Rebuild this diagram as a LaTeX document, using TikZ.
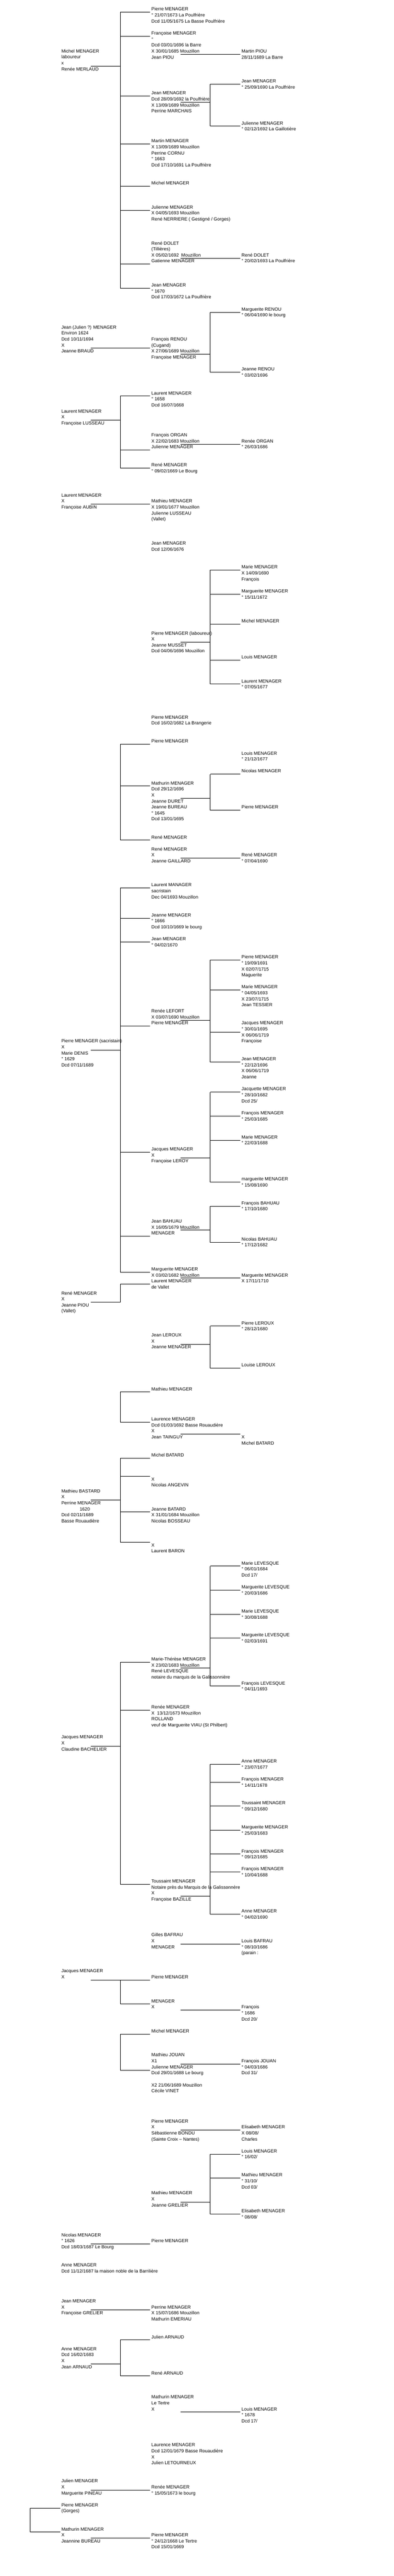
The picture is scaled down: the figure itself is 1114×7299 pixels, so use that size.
\documentclass[tikz,border=0pt]{standalone}
\usepackage{fontspec}
\setmainfont{Liberation Sans}
\newcommand{\fiche}[1]{\begin{tabular}[t]{@{}l@{}}#1\end{tabular}}
\tikzset{
  person/.style={anchor=base west, inner xsep=3pt, inner ysep=0pt,
    font=\fontsize{13}{17}\selectfont}
}
\begin{document}
\begin{tikzpicture}[x=1pt, y=-1pt, line width=1pt]
  \fill[white] (0,0) rectangle (1114,7299);
  \useasboundingbox (0,0) rectangle (1114,7299);

  \node (a0) at (170.3, 149.4) [person] {\fiche{Michel MENAGER\\laboureur\\x\\Renée MERLAUD}};
  \node (a1) at (425.3, 30.4) [person] {\fiche{Pierre MENAGER\\° 21/07/1673 La Poulfrière\\Dcd 11/05/1675 La Basse Poulfrière}};
  \node (a2) at (425.3, 98.5) [person] {\fiche{Françoise MENAGER\\°\\Dcd 03/01/1696 la Barre\\X 30/01/1685 Mouzillon\\Jean PIOU}};
  \node (a2k) at (680.3, 149.5) [person] {\fiche{Martin PIOU\\28/11/1689 La Barre}};
  \node (a3) at (425.3, 268.5) [person] {\fiche{Jean MENAGER\\Dcd 28/09/1692 la Poulfrière\\X 13/09/1689 Mouzillon\\Perrine MARCHAIS}};
  \node (a3k1) at (680.3, 234.3) [person] {\fiche{Jean MENAGER\\° 25/09/1690 La Poulfrière}};
  \node (a3k2) at (680.3, 353.3) [person] {\fiche{Julienne MENAGER\\° 02/12/1692 La Gaillotière}};
  \node (a4) at (425.3, 404.3) [person] {\fiche{Martin MENAGER\\X 13/09/1689 Mouzillon\\Perrine CORNU\\° 1663\\Dcd 17/10/1691 La Poulfrière}};
  \node (a5) at (425.3, 523.4) [person] {\fiche{Michel MENAGER}};
  \node (a6) at (425.3, 591.5) [person] {\fiche{Julienne MENAGER\\X 04/05/1693 Mouzillon\\René NERRIERE ( Gestigné / Gorges)}};
  \node (a7) at (425.3, 693.4) [person] {\fiche{René DOLET\\(Tillières)\\X 05/02/1692\ \ Mouzillon\\Gatienne MENAGER}};
  \node (a7k) at (680.3, 727.4) [person] {\fiche{René DOLET\\° 20/02/1693 La Poulfrière}};
  \node (a8) at (425.3, 812.5) [person] {\fiche{Jean MENAGER\\° 1670\\Dcd 17/03/1672 La Poulfrière}};

  \coordinate (fa) at ([xshift=-85pt,yshift=-3.9pt]a1.base west);
  \draw ([xshift=86pt,yshift=-37.9pt]a0.base west) -| (fa);
  \draw (fa) |- ([yshift=-3.9pt]a1.base west);
  \draw (fa) |- ([yshift=-3.9pt]a2.base west);
  \draw (fa) |- ([yshift=-3.9pt]a3.base west);
  \draw (fa) |- ([yshift=-3.9pt]a4.base west);
  \draw (fa) |- ([yshift=-3.9pt]a5.base west);
  \draw (fa) |- ([yshift=-3.9pt]a6.base west);
  \draw (fa) |- ([yshift=-54.9pt]a7.base west);
  \draw (fa) |- ([yshift=-3.9pt]a8.base west);
  \draw ([xshift=86pt,yshift=-54.9pt]a2.base west) -- ([yshift=-3.9pt]a2k.base west);
  \coordinate (fa3) at ([xshift=-85pt,yshift=-3.9pt]a3k1.base west);
  \draw ([xshift=86pt,yshift=-20.9pt]a3.base west) -| (fa3);
  \draw (fa3) |- ([yshift=-3.9pt]a3k1.base west);
  \draw (fa3) |- ([yshift=-3.9pt]a3k2.base west);
  \draw ([xshift=86pt,yshift=-37.9pt]a7.base west) -- ([yshift=-3.9pt]a7k.base west);

  \node (b0) at (170.3, 931.5) [person] {\fiche{Jean (Julien ?) MENAGER\\Environ 1624\\Dcd 10/11/1694\\X\\Jeanne BRAUD}};
  \node (b1) at (425.3, 965.5) [person] {\fiche{François RENOU\\(Cugand)\\X 27/06/1689 Mouzillon\\Françoise MENAGER}};
  \node (b1k1) at (680.3, 880.6) [person] {\fiche{Marguerite RENOU\\° 06/04/1690 le bourg}};
  \node (b1k2) at (680.3, 1050.6) [person] {\fiche{Jeanne RENOU\\° 03/02/1696}};
  \draw ([xshift=86pt,yshift=-54.9pt]b0.base west) -- ([yshift=-20.9pt]b1.base west);
  \coordinate (fb) at ([xshift=-85pt,yshift=-3.9pt]b1k1.base west);
  \draw ([xshift=86pt,yshift=-37.9pt]b1.base west) -| (fb);
  \draw (fb) |- ([yshift=-3.9pt]b1k1.base west);
  \draw (fb) |- ([yshift=-3.9pt]b1k2.base west);

  \node (c0) at (170.3, 1169.3) [person] {\fiche{Laurent MENAGER\\X\\Françoise LUSSEAU}};
  \node (c1) at (425.3, 1118.3) [person] {\fiche{Laurent MENAGER\\° 1658\\Dcd 16/07/1668}};
  \node (c2) at (425.3, 1237.4) [person] {\fiche{François ORGAN\\X 22/02/1683 Mouzillon\\Julienne MENAGER}};
  \node (c2k) at (680.3, 1254.4) [person] {\fiche{Renée ORGAN\\° 26/03/1686}};
  \node (c3) at (425.3, 1322.2) [person] {\fiche{René MENAGER\\° 09/02/1669 Le Bourg}};
  \coordinate (fc) at ([xshift=-85pt,yshift=-3.9pt]c1.base west);
  \draw ([xshift=86pt,yshift=-20.9pt]c0.base west) -| (fc);
  \draw (fc) |- ([yshift=-3.9pt]c1.base west);
  \draw (fc) |- ([yshift=-37.9pt]c2.base west);
  \draw (fc) |- ([yshift=-3.9pt]c3.base west);
  \draw ([xshift=86pt,yshift=-20.9pt]c2.base west) -- ([yshift=-3.9pt]c2k.base west);

  \node (d0) at (170.3, 1407.4) [person] {\fiche{Laurent MENAGER\\X\\Françoise AUBIN}};
  \node (d1) at (425.3, 1424.4) [person] {\fiche{Mathieu MENAGER\\X 19/01/1677 Mouzillon\\Julienne LUSSEAU\\(Vallet)}};
  \draw ([xshift=86pt,yshift=-20.9pt]d0.base west) -- ([yshift=-3.9pt]d1.base west);
  \node (e1) at (425.3, 1543.6) [person] {\fiche{Jean MENAGER\\Dcd 12/06/1676}};

  \node (f0) at (425.3, 1798.5) [person] {\fiche{Pierre MENAGER (laboureur)\\X\\Jeanne MUSSET\\Dcd 04/06/1696 Mouzillon}};
  \node (f1) at (680.3, 1611.3) [person] {\fiche{Marie MENAGER\\X 14/09/1690\\François}};
  \node (f2) at (680.3, 1679.4) [person] {\fiche{Marguerite MENAGER\\° 15/11/1672}};
  \node (f3) at (680.3, 1764.2) [person] {\fiche{Michel MENAGER}};
  \node (f4) at (680.3, 1866.6) [person] {\fiche{Louis MENAGER}};
  \node (f5) at (680.3, 1934.3) [person] {\fiche{Laurent MENAGER\\° 07/05/1677}};
  \coordinate (ff) at ([xshift=-85pt,yshift=-3.9pt]f1.base west);
  \draw ([xshift=86pt,yshift=-20.9pt]f0.base west) -| (ff);
  \draw (ff) |- ([yshift=-3.9pt]f1.base west);
  \draw (ff) |- ([yshift=-3.9pt]f2.base west);
  \draw (ff) |- ([yshift=-3.9pt]f3.base west);
  \draw (ff) |- ([yshift=-3.9pt]f4.base west);
  \draw (ff) |- ([yshift=-3.9pt]f5.base west);

  \node (g1) at (425.3, 2036.6) [person] {\fiche{Pierre MENAGER\\Dcd 16/02/1682 La Brangerie}};

  \node (h1) at (425.3, 2104.3) [person] {\fiche{Pierre MENAGER}};
  \node (h2) at (425.3, 2223.4) [person] {\fiche{Mathurin MENAGER\\Dcd 29/12/1696\\X\\Jeanne DURET\\Jeanne BUREAU\\° 1645\\Dcd 13/01/1695}};
  \node (h3) at (425.3, 2376.7) [person] {\fiche{René MENAGER}};
  \node (h2k0) at (680.3, 2138.6) [person] {\fiche{Louis MENAGER\\° 21/12/1677}};
  \node (h2k1) at (680.3, 2189.5) [person] {\fiche{Nicolas MENAGER}};
  \node (h2k2) at (680.3, 2291.5) [person] {\fiche{Pierre MENAGER}};
  \coordinate (fh) at ([xshift=-85pt,yshift=-3.9pt]h1.base west);
  \draw (fh) |- ([yshift=-3.9pt]h1.base west);
  \draw (fh) |- ([yshift=-3.9pt]h2.base west);
  \draw (fh) |- ([yshift=-3.9pt]h3.base west);
  \coordinate (fh2) at ([xshift=-85pt,yshift=-3.9pt]h2k1.base west);
  \draw ([xshift=86pt,yshift=-37.9pt]h2.base west) -| (fh2);
  \draw (fh2) |- ([yshift=-3.9pt]h2k1.base west);
  \draw (fh2) |- ([yshift=-3.9pt]h2k2.base west);

  \node (i1) at (425.3, 2410.1) [person] {\fiche{René MENAGER\\X\\Jeanne GAILLARD}};
  \node (i1k) at (680.3, 2427.1) [person] {\fiche{René MENAGER\\° 07/04/1690}};
  \draw ([xshift=86pt,yshift=-20.9pt]i1.base west) -- ([yshift=-3.9pt]i1k.base west);

  \node (j0) at (170.3, 2954.5) [person] {\fiche{Pierre MENAGER (sacristain)\\X\\Marie DENIS\\° 1629\\Dcd 07/11/1689}};
  \node (j1) at (425.3, 2512.1) [person] {\fiche{Laurent MANAGER\\sacristain\\Dec 04/1693 Mouzillon}};
  \node (j2) at (425.3, 2597.3) [person] {\fiche{Jeanne MENAGER\\° 1666\\Dcd 10/10/1669 le bourg}};
  \node (j3) at (425.3, 2665.4) [person] {\fiche{Jean MENAGER\\° 04/02/1670}};
  \node (j4) at (425.3, 2869.3) [person] {\fiche{Renée LEFORT\\X 03/07/1690 Mouzillon\\Pierre MENAGER}};
  \node (j5) at (425.3, 3260.3) [person] {\fiche{Jacques MENAGER\\X\\Françoise LEROY}};
  \node (j6) at (425.3, 3464.6) [person] {\fiche{Jean BAHUAU\\X 16/05/1679 Mouzillon\\MENAGER}};
  \node (j7) at (425.3, 3600.4) [person] {\fiche{Marguerite MENAGER\\X 03/02/1682 Mouzillon\\Laurent MENAGER\\de Vallet}};
  \coordinate (fj) at ([xshift=-85pt,yshift=-3.9pt]j1.base west);
  \draw ([xshift=86pt,yshift=-20.9pt]j0.base west) -| (fj);
  \draw (fj) |- ([yshift=-3.9pt]j1.base west);
  \draw (fj) |- ([yshift=-3.9pt]j2.base west);
  \draw (fj) |- ([yshift=-3.9pt]j3.base west);
  \draw (fj) |- ([yshift=-37.9pt]j4.base west);
  \draw (fj) |- ([yshift=-3.9pt]j5.base west);
  \draw (fj) |- ([yshift=-37.9pt]j6.base west);
  \draw (fj) |- ([yshift=-3.9pt]j7.base west);

  \node (j4k1) at (680.3, 2716.4) [person] {\fiche{Pierre MENAGER\\° 19/09/1691\\X 02/07/1715\\Maguerite}};
  \node (j4k2) at (680.3, 2801.2) [person] {\fiche{Marie MENAGER\\° 04/05/1693\\X 23/07/1715\\Jean TESSIER}};
  \node (j4k3) at (680.3, 2903.5) [person] {\fiche{Jacques MENAGER\\° 30/01/1695\\X 06/06/1719\\Françoise}};
  \node (j4k4) at (680.3, 3005.1) [person] {\fiche{Jean MENAGER\\° 22/12/1696\\X 06/06/1719\\Jeanne}};
  \coordinate (fj4) at ([xshift=-85pt,yshift=-3.9pt]j4k1.base west);
  \draw ([xshift=86pt,yshift=-20.9pt]j4.base west) -| (fj4);
  \draw (fj4) |- ([yshift=-3.9pt]j4k1.base west);
  \draw (fj4) |- ([yshift=-3.9pt]j4k2.base west);
  \draw (fj4) |- ([yshift=-20.9pt]j4k3.base west);
  \draw (fj4) |- ([yshift=-3.9pt]j4k4.base west);

  \node (j5k1) at (680.3, 3090.3) [person] {\fiche{Jacquette MENAGER\\° 28/10/1682\\Dcd 25/}};
  \node (j5k2) at (680.3, 3158.4) [person] {\fiche{François MENAGER\\° 25/03/1685}};
  \node (j5k3) at (680.3, 3226.5) [person] {\fiche{Marie MENAGER\\° 22/03/1688}};
  \node (j5k4) at (680.3, 3345.6) [person] {\fiche{marguerite MENAGER\\° 15/08/1690}};
  \coordinate (fj5) at ([xshift=-85pt,yshift=-3.9pt]j5k1.base west);
  \draw ([xshift=86pt,yshift=-20.9pt]j5.base west) -| (fj5);
  \draw (fj5) |- ([yshift=-3.9pt]j5k1.base west);
  \draw (fj5) |- ([yshift=-3.9pt]j5k2.base west);
  \draw (fj5) |- ([yshift=-3.9pt]j5k3.base west);
  \draw (fj5) |- ([yshift=-3.9pt]j5k4.base west);

  \node (j6k1) at (680.3, 3413.3) [person] {\fiche{François BAHUAU\\° 17/10/1680}};
  \node (j6k2) at (680.3, 3515.6) [person] {\fiche{Nicolas BAHUAU\\° 17/12/1682}};
  \coordinate (fj6) at ([xshift=-85pt,yshift=-3.9pt]j6k1.base west);
  \draw ([xshift=86pt,yshift=-20.9pt]j6.base west) -| (fj6);
  \draw (fj6) |- ([yshift=-3.9pt]j6k1.base west);
  \draw (fj6) |- ([yshift=-3.9pt]j6k2.base west);

  \node (j7k) at (680.3, 3617.4) [person] {\fiche{Marguerite MENAGER\\X 17/11/1710}};
  \draw ([xshift=86pt,yshift=-20.9pt]j7.base west) -- ([yshift=-3.9pt]j7k.base west);

  \node (k0) at (170.3, 3668.5) [person] {\fiche{René MENAGER\\X\\Jeanne PIOU\\(Vallet)}};
  \coordinate (fk) at ([xshift=-85pt,yshift=-37.9pt]j7.base west);
  \draw ([xshift=86pt,yshift=-20.9pt]k0.base west) -| (fk);
  \draw (fk) |- ([yshift=-37.9pt]j7.base west);

  \node (l1) at (425.3, 3787.6) [person] {\fiche{Jean LEROUX\\X\\Jeanne MENAGER}};
  \node (l1k1) at (680.3, 3753.3) [person] {\fiche{Pierre LEROUX\\° 28/12/1680}};
  \node (l1k2) at (680.3, 3872.4) [person] {\fiche{Louise LEROUX}};
  \coordinate (fl) at ([xshift=-85pt,yshift=-3.9pt]l1k1.base west);
  \draw ([xshift=86pt,yshift=-20.9pt]l1.base west) -| (fl);
  \draw (fl) |- ([yshift=-3.9pt]l1k1.base west);
  \draw (fl) |- ([yshift=-3.9pt]l1k2.base west);

  \node (m1) at (425.3, 3940.1) [person] {\fiche{Mathieu MENAGER}};
  \node (m2) at (425.3, 4025.3) [person] {\fiche{Laurence MENAGER\\Dcd 01/03/1692 Basse Rouaudière\\X\\Jean TAINGUY}};
  \node (m2k) at (680.3, 4059.3) [person] {\fiche{\mbox{}\\X\\Michel BATARD}};
  \coordinate (fm) at ([xshift=-85pt,yshift=-3.9pt]m1.base west);
  \draw (fm) |- ([yshift=-3.9pt]m1.base west);
  \draw (fm) |- ([yshift=-3.9pt]m2.base west);
  \draw ([xshift=86pt,yshift=-37.9pt]m2.base west) -- ([yshift=-3.9pt]m2k.base west);

  \node (n0) at (170.3, 4229.2) [person] {\fiche{Mathieu BASTARD\\X\\Perrine MENAGER\\\hspace*{51.8pt}1620\\Dcd 02/11/1689\\Basse Rouaudière}};
  \node (n1) at (425.3, 4127.3) [person] {\fiche{Michel BATARD}};
  \node (n2) at (425.3, 4178.6) [person] {\fiche{\mbox{}\\X\\Nicolas ANGEVIN}};
  \node (n3) at (425.3, 4280.2) [person] {\fiche{Jeanne BATARD\\X 31/01/1684 Mouzillon\\Nicolas BOSSEAU}};
  \node (n4) at (425.3, 4365.4) [person] {\fiche{\mbox{}\\X\\Laurent BARON}};
  \coordinate (fn) at ([xshift=-85pt,yshift=-3.9pt]n1.base west);
  \draw ([xshift=86pt,yshift=-20.9pt]n0.base west) -| (fn);
  \draw (fn) |- ([yshift=-3.9pt]n1.base west);
  \draw (fn) |- ([yshift=-3.9pt]n2.base west);
  \draw (fn) |- ([yshift=-3.9pt]n3.base west);
  \draw (fn) |- ([yshift=-3.9pt]n4.base west);

  \node (o0) at (170.3, 4926.5) [person] {\fiche{Jacques MENAGER\\X\\Claudine BACHELIER}};
  \node (o1) at (425.3, 4705.5) [person] {\fiche{Marie-Thérèse MENAGER\\X 23/02/1683 Mouzillon\\René LEVESQUE\\notaire du marquis de la Galissonnière}};
  \node (o2) at (425.3, 4841.3) [person] {\fiche{Renée MENAGER\\X\ \ 13/12/1673 Mouzillon\\ROLLAND\\veuf de Marguerite VIAU (St Philbert)}};
  \node (o3) at (425.3, 5334.7) [person] {\fiche{Toussaint MENAGER\\Notaire près du Marquis de la Galissonnère\\X\\Françoise BAZILLE}};
  \coordinate (fo) at ([xshift=-85pt,yshift=-3.9pt]o1.base west);
  \draw ([xshift=86pt,yshift=-20.9pt]o0.base west) -| (fo);
  \draw (fo) |- ([yshift=-3.9pt]o1.base west);
  \draw (fo) |- ([yshift=-3.9pt]o2.base west);
  \draw (fo) |- ([yshift=-3.9pt]o3.base west);

  \node (o1k1) at (680.3, 4433.5) [person] {\fiche{Marie LEVESQUE\\° 06/01/1684\\Dcd 17/}};
  \node (o1k2) at (680.3, 4501.6) [person] {\fiche{Marguerite LEVESQUE\\° 20/03/1686}};
  \node (o1k3) at (680.3, 4569.7) [person] {\fiche{Marie LEVESQUE\\° 30/08/1688}};
  \node (o1k4) at (680.3, 4637.4) [person] {\fiche{Marguerite LEVESQUE\\° 02/03/1691}};
  \node (o1k5) at (680.3, 4773.6) [person] {\fiche{François LEVESQUE\\° 04/11/1693}};
  \coordinate (fo1) at ([xshift=-85pt,yshift=-3.9pt]o1k1.base west);
  \draw ([xshift=86pt,yshift=-20.9pt]o1.base west) -| (fo1);
  \draw (fo1) |- ([yshift=-3.9pt]o1k1.base west);
  \draw (fo1) |- ([yshift=-3.9pt]o1k2.base west);
  \draw (fo1) |- ([yshift=-3.9pt]o1k3.base west);
  \draw (fo1) |- ([yshift=-3.9pt]o1k4.base west);
  \draw (fo1) |- ([yshift=-3.9pt]o1k5.base west);

  \node (o3k1) at (680.3, 4994.6) [person] {\fiche{Anne MENAGER\\° 23/07/1677}};
  \node (o3k2) at (680.3, 5045.6) [person] {\fiche{François MENAGER\\° 14/11/1678}};
  \node (o3k3) at (680.3, 5113.6) [person] {\fiche{Toussaint MENAGER\\° 09/12/1680}};
  \node (o3k4) at (680.3, 5181.7) [person] {\fiche{Marguerite MENAGER\\° 25/03/1683}};
  \node (o3k5) at (680.3, 5249.4) [person] {\fiche{François MENAGER\\° 09/12/1685}};
  \node (o3k6) at (680.3, 5300.4) [person] {\fiche{François MENAGER\\° 10/04/1688}};
  \node (o3k7) at (680.3, 5419.5) [person] {\fiche{Anne MENAGER\\° 04/02/1690}};
  \coordinate (fo3) at ([xshift=-85pt,yshift=-3.9pt]o3k1.base west);
  \draw ([xshift=86pt,yshift=-37.9pt]o3.base west) -| (fo3);
  \draw (fo3) |- ([yshift=-3.9pt]o3k1.base west);
  \draw (fo3) |- ([yshift=-3.9pt]o3k2.base west);
  \draw (fo3) |- ([yshift=-3.9pt]o3k3.base west);
  \draw (fo3) |- ([yshift=-3.9pt]o3k4.base west);
  \draw (fo3) |- ([yshift=-3.9pt]o3k5.base west);
  \draw (fo3) |- ([yshift=-3.9pt]o3k6.base west);
  \draw (fo3) |- ([yshift=-3.9pt]o3k7.base west);

  \node (p1) at (425.3, 5487.2) [person] {\fiche{Gilles BAFRAU\\X\\MENAGER}};
  \node (p1k) at (680.3, 5504.2) [person] {\fiche{Louis BAFRAU\\° 08/10/1686\\(parain :}};
  \draw ([xshift=86pt,yshift=-20.9pt]p1.base west) -- ([yshift=-3.9pt]p1k.base west);

  \node (q0) at (170.3, 5589.5) [person] {\fiche{Jacques MENAGER\\X}};
  \node (q1) at (425.3, 5606.5) [person] {\fiche{Pierre MENAGER}};
  \node (q2) at (425.3, 5674.3) [person] {\fiche{MENAGER\\X}};
  \node (q2k) at (680.3, 5691.3) [person] {\fiche{François\\° 1686\\Dcd 20/}};
  \coordinate (fq) at ([xshift=-85pt,yshift=-3.9pt]q1.base west);
  \draw ([xshift=86pt,yshift=-20.9pt]q0.base west) -| (fq);
  \draw (fq) |- ([yshift=-3.9pt]q1.base west);
  \draw (fq) |- ([yshift=-3.9pt]q2.base west);
  \draw ([xshift=86pt,yshift=-20.9pt]q2.base west) -- ([yshift=-3.9pt]q2k.base west);

  \node (r1) at (425.3, 5759.2) [person] {\fiche{Michel MENAGER}};
  \node (r2) at (425.3, 5827.3) [person] {\fiche{Mathieu JOUAN\\X1\\Julienne MENAGER\\Dcd 29/01/1688 Le bourg\\\mbox{}\\X2 21/06/1689 Mouzillon\\Cécile VINET}};
  \node (r2k) at (680.3, 5844.3) [person] {\fiche{François JOUAN\\° 04/03/1686\\Dcd 31/}};
  \coordinate (fr) at ([xshift=-85pt,yshift=-3.9pt]r1.base west);
  \draw (fr) |- ([yshift=-3.9pt]r1.base west);
  \draw (fr) |- ([yshift=-37.9pt]r2.base west);
  \draw ([xshift=86pt,yshift=-20.9pt]r2.base west) -- ([yshift=-3.9pt]r2k.base west);

  \node (s1) at (425.3, 6014.4) [person] {\fiche{Pierre MENAGER\\X\\Sébastienne BONDU\\(Sainte Croix – Nantes)}};
  \node (s1k) at (680.3, 6031.4) [person] {\fiche{Elisabeth MENAGER\\X 08/08/\\Charles}};
  \draw ([xshift=86pt,yshift=-20.9pt]s1.base west) -- ([yshift=-3.9pt]s1k.base west);

  \node (t1) at (425.3, 6218.3) [person] {\fiche{Mathieu MENAGER\\X\\Jeanne GRELIER}};
  \node (t1k1) at (680.3, 6099.3) [person] {\fiche{Louis MENAGER\\° 16/02/}};
  \node (t1k2) at (680.3, 6167.3) [person] {\fiche{Mathieu MENAGER\\° 31/10/\\Dcd 03/}};
  \node (t1k3) at (680.3, 6269.3) [person] {\fiche{Elisabeth MENAGER\\° 08/08/}};
  \coordinate (ft) at ([xshift=-85pt,yshift=-3.9pt]t1k1.base west);
  \draw ([xshift=86pt,yshift=-20.9pt]t1.base west) -| (ft);
  \draw (ft) |- ([yshift=-3.9pt]t1k1.base west);
  \draw (ft) |- ([yshift=-3.9pt]t1k2.base west);
  \draw (ft) |- ([yshift=-3.9pt]t1k3.base west);

  \node (u0) at (170.3, 6337.4) [person] {\fiche{Nicolas MENAGER\\° 1626\\Dcd 18/03/1687 Le Bourg}};
  \node (u1) at (425.3, 6354.4) [person] {\fiche{Pierre MENAGER}};
  \draw ([xshift=86pt,yshift=-20.9pt]u0.base west) -- ([yshift=-3.9pt]u1.base west);
  \node (v0) at (170.3, 6422.2) [person] {\fiche{Anne MENAGER\\Dcd 11/12/1687 la maison noble de la Barrilière}};
  \node (w0) at (170.3, 6524.5) [person] {\fiche{Jean MENAGER\\X\\Françoise GRELIER}};
  \node (w1) at (425.3, 6541.5) [person] {\fiche{Perrine MENAGER\\X 15/07/1686 Mouzillon\\Mathurin EMERIAU}};
  \draw ([xshift=86pt,yshift=-20.9pt]w0.base west) -- ([yshift=-3.9pt]w1.base west);

  \node (y0) at (170.3, 6660.0) [person] {\fiche{Anne MENAGER\\Dcd 16/02/1683\\X\\Jean ARNAUD}};
  \node (y1) at (425.3, 6626.1) [person] {\fiche{Julien ARNAUD}};
  \node (y2) at (425.3, 6728.2) [person] {\fiche{René ARNAUD}};
  \coordinate (fy) at ([xshift=-85pt,yshift=-3.9pt]y1.base west);
  \draw ([xshift=86pt,yshift=-37.9pt]y0.base west) -| (fy);
  \draw (fy) |- ([yshift=-3.9pt]y1.base west);
  \draw (fy) |- ([yshift=-3.9pt]y2.base west);

  \node (z1) at (425.3, 6796.4) [person] {\fiche{Mathurin MENAGER\\Le Tertre\\X}};
  \node (z1k) at (680.3, 6830.4) [person] {\fiche{Louis MENAGER\\° 1678\\Dcd 17/}};
  \draw ([xshift=86pt,yshift=-37.9pt]z1.base west) -- ([yshift=-3.9pt]z1k.base west);
  \node (z2) at (425.3, 6932.4) [person] {\fiche{Laurence MENAGER\\Dcd 12/01/1679 Basse Rouaudière\\X\\Julien LETOURNEUX}};

  \node (aa0) at (170.3, 7034.5) [person] {\fiche{Julien MENAGER\\X\\Marguerite PINEAU}};
  \node (aa1) at (425.3, 7051.5) [person] {\fiche{Renée MENAGER\\° 15/05/1673 le bourg}};
  \draw ([xshift=86pt,yshift=-20.9pt]aa0.base west) -- ([yshift=-3.9pt]aa1.base west);

  \node (bb1) at (170.3, 7102.2) [person] {\fiche{Pierre MENAGER\\(Gorges)}};
  \node (bb2) at (170.3, 7170.5) [person] {\fiche{Mathurin MENAGER\\X\\Jeannine BUREAU}};
  \node (bb3) at (425.3, 7187.5) [person] {\fiche{Pierre MENAGER\\° 24/12/1668 Le Tertre\\Dcd 15/01/1669}};
  \coordinate (fbb) at ([xshift=-85pt,yshift=-3.9pt]bb1.base west);
  \draw (fbb) |- ([yshift=-3.9pt]bb1.base west);
  \draw (fbb) |- ([yshift=-3.9pt]bb2.base west);
  \draw ([xshift=86pt,yshift=-20.9pt]bb2.base west) -- ([yshift=-3.9pt]bb3.base west);
\end{tikzpicture}
\end{document}
